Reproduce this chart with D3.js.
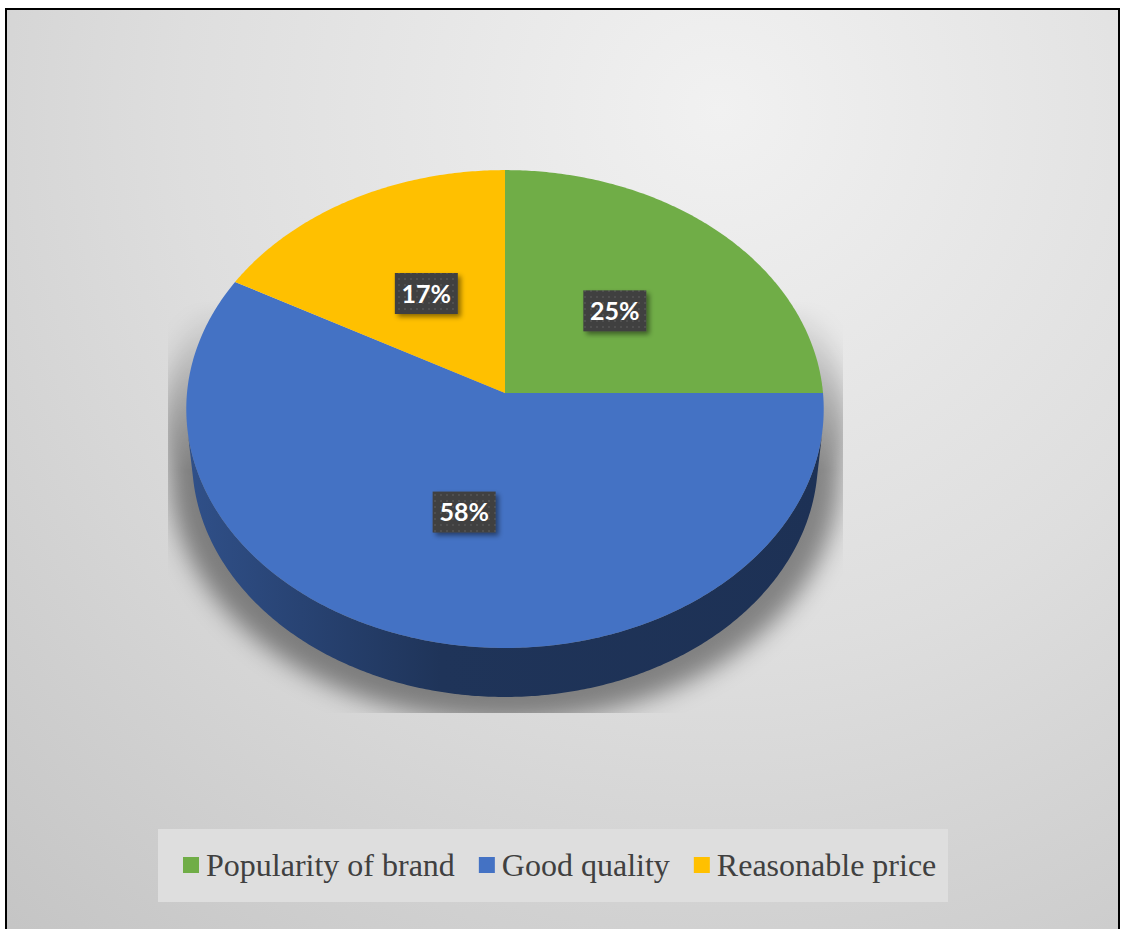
<!DOCTYPE html>
<html>
<head>
<meta charset="utf-8">
<script src="https://cdn.jsdelivr.net/npm/d3@7"></script>
<style>
  html, body { margin: 0; padding: 0; background: #ffffff; }
  svg { display: block; }
</style>
</head>
<body>
<svg id="chart" width="1121" height="929"></svg>
<script>
// Survey shares shown in the 3D pie
const categories = ["Popularity of brand", "Good quality", "Reasonable price"];
const shares = [25, 58, 17];
const labels = ["25%", "58%", "17%"];
const colors = ["#70ad47", "#4472c4", "#ffc000"];

const svg = d3.select("#chart");
const defs = svg.append("defs");

// ---- background panel -------------------------------------------------
const bg = defs.append("radialGradient").attr("id", "bgGrad")
  .attr("gradientUnits", "userSpaceOnUse")
  .attr("cx", 720).attr("cy", 110).attr("r", 1080);
bg.append("stop").attr("offset", 0).attr("stop-color", "#f1f1f1");
bg.append("stop").attr("offset", 0.5).attr("stop-color", "#dedede");
bg.append("stop").attr("offset", 1).attr("stop-color", "#c5c5c5");

svg.append("rect")
  .attr("x", 6).attr("y", 9).attr("width", 1113).attr("height", 940)
  .attr("fill", "url(#bgGrad)")
  .attr("stroke", "#000").attr("stroke-width", 2);

// ---- perspective projection of a flat disk ----------------------------
const cx = 505, cy = 393;      // projected centre of the top face
const radiusPx = 318;          // horizontal half-width of the top face
const sinE = 0.748, cosE = 0.664;   // viewing elevation
const persp = 0.101;           // disk radius / camera distance
const depth = 0.243;           // thickness of the disk (in radii)

function project(u, v, h) {
  const z = 1 - persp * (v * cosE + h * sinE);
  return [cx + radiusPx * u / z, cy + radiusPx * (v * sinE - h * cosE) / z];
}
// d3 pie angles run clockwise from 12 o'clock
function rim(theta, h) { return project(Math.sin(theta), -Math.cos(theta), h); }

function arcPoints(a0, a1, h) {
  const n = Math.max(2, Math.ceil((a1 - a0) / 0.01));
  return d3.range(n + 1).map(i => rim(a0 + (a1 - a0) * i / n, h));
}

const pie = d3.pie().sort(null).value(d => d)(shares);
const line = d3.line();

// side wall faces the viewer where cos(theta) < -persp / cosE
const wallStart = Math.acos(-persp / cosE);
const wallEnd = 2 * Math.PI - wallStart;

// ---- soft shadow beneath the disk ------------------------------------
const blur = defs.append("filter").attr("id", "shadowBlur")
  .attr("x", "-30%").attr("y", "-30%").attr("width", "160%").attr("height", "160%");
blur.append("feGaussianBlur").attr("stdDeviation", 11);

defs.append("clipPath").attr("id", "shadowClip")
  .append("rect").attr("x", 168).attr("y", 280).attr("width", 675).attr("height", 433);

const fade = defs.append("linearGradient").attr("id", "shadowFade")
  .attr("gradientUnits", "userSpaceOnUse")
  .attr("x1", 0).attr("y1", 300).attr("x2", 0).attr("y2", 470);
fade.append("stop").attr("offset", 0).attr("stop-color", "#fff").attr("stop-opacity", 0);
fade.append("stop").attr("offset", 1).attr("stop-color", "#fff").attr("stop-opacity", 1);
defs.append("mask").attr("id", "shadowMask")
  .append("rect").attr("x", 0).attr("y", 0).attr("width", 1121).attr("height", 929)
  .attr("fill", "url(#shadowFade)");

const silhouette = arcPoints(-Math.PI / 2, Math.PI / 2, 0)
  .concat(arcPoints(Math.PI / 2, 3 * Math.PI / 2, -depth));
const shadowOuter = svg.append("g")
  .attr("clip-path", "url(#shadowClip)")
  .attr("mask", "url(#shadowMask)");
shadowOuter.append("g")
  .attr("filter", "url(#shadowBlur)")
  .attr("transform", `translate(${cx},${cy + 12}) scale(1.07,1.04) translate(${-cx},${-cy})`)
  .append("path")
  .attr("d", line(arcPoints(0, 2 * Math.PI, 0)) + "Z " + line(arcPoints(0, 2 * Math.PI, -depth)) + "Z " + line(silhouette) + "Z")
  .attr("fill", "#000").attr("fill-opacity", 0.42);

// ---- side walls ------------------------------------------------------
const walls = svg.append("g");
pie.forEach((d, i) => {
  const lo = Math.max(d.startAngle, wallStart);
  const hi = Math.min(d.endAngle, wallEnd);
  if (hi <= lo) return;
  const base = d3.color(colors[i]);
  const g = defs.append("linearGradient").attr("id", "wallGrad" + i)
    .attr("gradientUnits", "userSpaceOnUse")
    .attr("x1", cx - radiusPx).attr("y1", 0).attr("x2", cx + radiusPx).attr("y2", 0);
  g.append("stop").attr("offset", 0).attr("stop-color", base.darker(1.0));
  g.append("stop").attr("offset", 0.18).attr("stop-color", base.darker(1.5));
  g.append("stop").attr("offset", 0.4).attr("stop-color", base.darker(2.2));
  g.append("stop").attr("offset", 1).attr("stop-color", base.darker(2.35));
  const pts = arcPoints(lo, hi, 0).concat(arcPoints(lo, hi, -depth).reverse());
  walls.append("path").attr("d", line(pts) + "Z").attr("fill", `url(#wallGrad${i})`);
});

// ---- top faces -------------------------------------------------------
const tops = svg.append("g");
pie.forEach((d, i) => {
  const pts = [project(0, 0, 0)].concat(arcPoints(d.startAngle, d.endAngle, 0));
  tops.append("path").attr("d", line(pts) + "Z").attr("fill", colors[i]);
});

// ---- data labels -----------------------------------------------------
const pat = defs.append("pattern").attr("id", "dots")
  .attr("patternUnits", "userSpaceOnUse").attr("width", 6).attr("height", 6);
pat.append("rect").attr("width", 6).attr("height", 6).attr("fill", "#3f3f3f");
pat.append("rect").attr("x", 2).attr("y", 2).attr("width", 2).attr("height", 2).attr("fill", "#4f4f4f");

const ds = defs.append("filter").attr("id", "labelShadow")
  .attr("x", "-30%").attr("y", "-30%").attr("width", "160%").attr("height", "160%");
ds.append("feDropShadow").attr("dx", 3).attr("dy", 3).attr("stdDeviation", 2.5)
  .attr("flood-color", "#000").attr("flood-opacity", 0.45);

const labelG = svg.append("g");
pie.forEach((d, i) => {
  const mid = (d.startAngle + d.endAngle) / 2;
  const [lx, ly] = project(0.5 * Math.sin(mid), -0.5 * Math.cos(mid), 0);
  const w = 63, h = 41;
  labelG.append("rect")
    .attr("x", lx - w / 2).attr("y", ly - h / 2).attr("width", w).attr("height", h)
    .attr("fill", "url(#dots)").attr("filter", "url(#labelShadow)");
  labelG.append("text")
    .attr("x", lx).attr("y", ly + 9)
    .attr("text-anchor", "middle")
    .attr("font-family", "Lato, 'Open Sans', sans-serif")
    .attr("font-weight", "bold").attr("font-size", 25)
    .attr("fill", "#ffffff")
    .text(labels[i]);
});

// ---- legend ----------------------------------------------------------
const legend = svg.append("g");
legend.append("rect").attr("x", 158).attr("y", 829).attr("width", 790).attr("height", 73)
  .attr("fill", "#dedede");
let xPos = 183;
categories.forEach((c, i) => {
  legend.append("rect").attr("x", xPos).attr("y", 857).attr("width", 16).attr("height", 16)
    .attr("fill", colors[i]);
  const t = legend.append("text")
    .attr("x", xPos + 23).attr("y", 876)
    .attr("font-family", "'Liberation Serif', 'Times New Roman', serif")
    .attr("font-size", 32).attr("fill", "#404040")
    .text(c);
  xPos += 23 + t.node().getComputedTextLength() + 24;
});
</script>
</body>
</html>
